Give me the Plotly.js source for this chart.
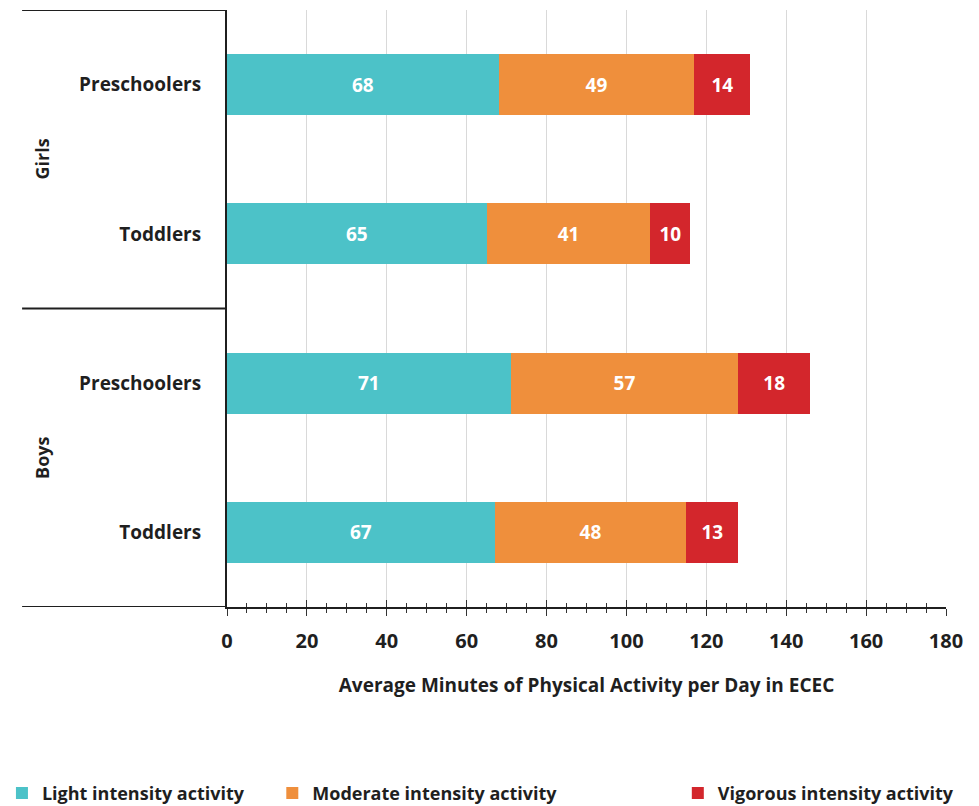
<!DOCTYPE html>
<html>
<head>
<meta charset="utf-8">
<script src="https://cdn.plot.ly/plotly-3.0.1.min.js"></script>
<style>html,body{margin:0;padding:0;background:#fff;}#chart{width:979px;height:806px;}</style>
</head>
<body>
<div id="chart"></div>
<script>
// ---- data ----
const groups = ["Girls", "Girls", "Boys", "Boys"];
const ages = ["Preschoolers", "Toddlers", "Preschoolers", "Toddlers"];
const lightMinutes = [68, 65, 71, 67];
const moderateMinutes = [49, 41, 57, 48];
const vigorousMinutes = [14, 10, 18, 13];
const seriesNames = ["Light intensity activity", "Moderate intensity activity", "Vigorous intensity activity"];
const xTickValues = [0, 20, 40, 60, 80, 100, 120, 140, 160, 180];
const groupNames = ["Girls", "Boys"];

// ---- styling ----
const FONT = "Open Sans, Lato, Liberation Sans, sans-serif";
const INK = "#1f1f1f";
const colors = ["#4CC2C8", "#EF8F3C", "#D3262C"];

const catIds = groups.map((g, i) => g + " " + ages[i]);
const seriesValues = [lightMinutes, moderateMinutes, vigorousMinutes];
const legendIds = ["legend", "legend2", "legend3"];

const traces = seriesValues.map((vals, k) => ({
  type: "bar",
  orientation: "h",
  name: seriesNames[k],
  x: vals,
  y: catIds,
  marker: {color: colors[k], line: {width: 0}},
  texttemplate: "%{x}",
  textposition: "inside",
  insidetextanchor: "middle",
  textangle: 0,
  constraintext: "none",
  textfont: {family: FONT, size: 19, color: "#ffffff", weight: 700},
  legend: legendIds[k],
  hoverinfo: "x+name"
}));

// invisible trace to carry the overlaying tick axis
traces.push({
  type: "scatter", mode: "none", x: [0], y: [catIds[0]],
  xaxis: "x2", yaxis: "y", showlegend: false, hoverinfo: "skip"
});

// group labels and divider lines from data
const annotations = groupNames.map(gname => {
  const idx = groups.map((g, i) => g === gname ? i : -1).filter(i => i >= 0);
  const mid = (idx[0] + idx[idx.length - 1]) / 2;
  return {
    text: gname, xref: "paper", yref: "y", x: -0.257, y: mid,
    textangle: -90, showarrow: false, xanchor: "center", yanchor: "middle",
    font: {family: FONT, size: 18, color: INK, weight: 700}
  };
});

const shapes = [];
const boundaries = [-0.5];
groups.forEach((g, i) => { if (i > 0 && g !== groups[i - 1]) boundaries.push(i - 0.5); });
boundaries.push(groups.length - 0.5);
boundaries.forEach(b => {
  shapes.push({type: "line", xref: "paper", yref: "y", x0: -0.285, x1: 0, y0: b, y1: b,
    line: {color: INK, width: 2}});
});

const xAxisCommon = {
  range: [0, 180],
  tickvals: xTickValues,
  showgrid: false,
  zeroline: false,
  ticklen: 7,
  tickwidth: 1,
  tickcolor: "#333",
  minor: {dtick: 5, ticklen: 4, tickwidth: 1, tickcolor: "#333", showgrid: false}
};

const legendFont = {family: FONT, size: 18, color: INK, weight: 700};

const layout = {
  width: 979, height: 806,
  margin: {l: 227, r: 33, t: 10, b: 199, autoexpand: false},
  paper_bgcolor: "#ffffff", plot_bgcolor: "#ffffff",
  barmode: "stack",
  bargap: 0.59,
  font: {family: FONT, color: INK},
  xaxis: Object.assign({}, xAxisCommon, {
    ticks: "outside",
    minor: Object.assign({}, xAxisCommon.minor, {ticks: "outside"}),
    showgrid: true, gridcolor: "#d9d9d9", gridwidth: 1,
    showline: true, linecolor: INK, linewidth: 2,
    tickfont: {family: FONT, size: 20, color: INK, weight: 700},
    ticklabelstandoff: 8,
    automargin: false,
    title: {text: "Average Minutes of Physical Activity per Day in ECEC",
      font: {family: FONT, size: 19, color: INK, weight: 700}, standoff: 26}
  }),
  xaxis2: Object.assign({}, xAxisCommon, {
    overlaying: "x", anchor: "y", side: "bottom",
    ticks: "inside",
    minor: Object.assign({}, xAxisCommon.minor, {ticks: "inside"}),
    showticklabels: false, showline: false, automargin: false
  }),
  yaxis: {
    type: "category",
    categoryorder: "array",
    categoryarray: catIds,
    range: [catIds.length - 0.5, -0.5],
    tickvals: catIds,
    ticktext: ages,
    ticks: "",
    showgrid: false, zeroline: false,
    showline: true, linecolor: INK, linewidth: 2,
    tickfont: {family: FONT, size: 19, color: INK, weight: 700},
    ticklabelstandoff: 20,
    automargin: false
  },
  showlegend: true,
  legend: {x: -0.313, xanchor: "left", y: -0.312, yanchor: "middle", orientation: "h",
    font: legendFont, bgcolor: "rgba(0,0,0,0)"},
  legend2: {x: 0.063, xanchor: "left", y: -0.312, yanchor: "middle", orientation: "h",
    font: legendFont, bgcolor: "rgba(0,0,0,0)"},
  legend3: {x: 0.627, xanchor: "left", y: -0.312, yanchor: "middle", orientation: "h",
    font: legendFont, bgcolor: "rgba(0,0,0,0)"},
  annotations: annotations,
  shapes: shapes
};

Plotly.newPlot("chart", traces, layout, {displayModeBar: false, staticPlot: true});
</script>
</body>
</html>
